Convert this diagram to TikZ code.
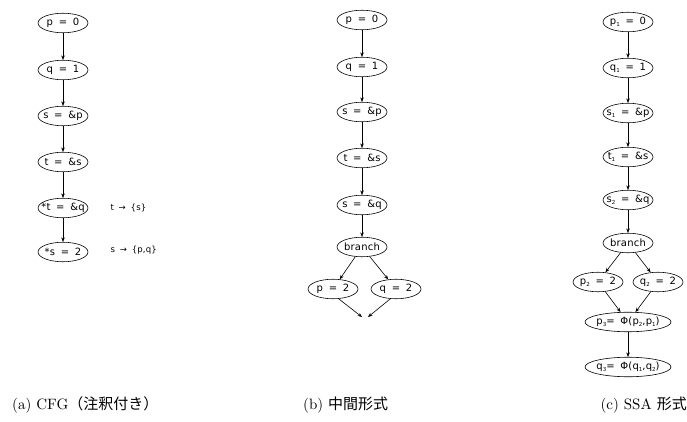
\documentclass[tikz,border=0pt]{standalone}
\usepackage{fontspec}
\newfontfamily\nodefont[WordSpace=1.7,LetterSpace=2]{DejaVu Sans}
\newfontfamily\cjk{Noto Sans CJK JP}
\newfontfamily\capfont{lmroman10-regular.otf}
\usetikzlibrary{shapes.geometric,arrows.meta}
\newcommand{\subn}[1]{\raisebox{-2pt}{\fontsize{5.5}{6}\selectfont #1}}
\tikzset{
  ir/.style={ellipse,draw,line width=0.6pt,minimum width=50pt,minimum height=19.5pt,inner xsep=-8pt,inner ysep=-3pt,font=\nodefont\fontsize{10}{12}\selectfont},
  wide/.style={ir,minimum width=86pt},
  ed/.style={draw,line width=0.6pt,-{Stealth[length=4.5pt,width=3.5pt]}},
  anno/.style={anchor=west,font=\nodefont\fontsize{8.5}{10}\selectfont},
  captext/.style={font=\capfont\fontsize{15}{17}\selectfont,inner sep=0pt}
}
\begin{document}
\begin{tikzpicture}[x=1pt,y=-1pt]
\useasboundingbox (0,0) rectangle (687,422);
% (a)
\node[ir] (a1) at (63,23) {p = 0};
\node[ir] (a2) at (63,70) {q = 1};
\node[ir] (a3) at (63,116) {s = \&p};
\node[ir] (a4) at (63,162) {t = \&s};
\node[ir] (a5) at (63,208) {*t = \&q};
\node[ir] (a6) at (63,252) {*s = 2};
\foreach \i/\j in {a1/a2,a2/a3,a3/a4,a4/a5,a5/a6} \draw[ed] (\i) -- (\j);
\node[anno] (n1) at (107,208) {t → \{s\}};
\node[anno] (n2) at (107,250) {s → \{p,q\}};
% (b)
\node[ir] (b1) at (362,20) {p = 0};
\node[ir] (b2) at (362,67) {q = 1};
\node[ir] (b3) at (362,112) {s = \&p};
\node[ir] (b4) at (362,158) {t = \&s};
\node[ir] (b5) at (362,205) {s = \&q};
\node[ir] (b6) at (362,247) {branch};
\node[ir] (b7) at (333,289) {p = 2};
\node[ir] (b8) at (396,289) {q = 2};
\coordinate (bl) at (362,317);
\coordinate (br) at (368,317);
\foreach \i/\j in {b1/b2,b2/b3,b3/b4,b4/b5,b5/b6,b6/b7,b6/b8} \draw[ed] (\i) -- (\j);
\draw[ed] (b7.-60) -- (bl);
\draw[ed] (b8.-120) -- (br);
% (c)
\node[ir] (c1) at (628,22) {p\subn{1} = 0};
\node[ir] (c2) at (628,68) {q\subn{1} = 1};
\node[ir] (c3) at (628,113) {s\subn{1} = \&p};
\node[ir] (c4) at (628,157) {t\subn{1} = \&s};
\node[ir] (c5) at (628,200) {s\subn{2} = \&q};
\node[ir] (c6) at (628,243) {branch};
\node[ir] (c7) at (598,282) {p\subn{2} = 2};
\node[ir] (c8) at (658,282) {q\subn{2} = 2};
\node[wide] (c9) at (628,322) {p\subn{3}= Φ(p\subn{2},p\subn{1})};
\node[wide] (c10) at (628,367) {q\subn{3}= Φ(q\subn{1},q\subn{2})};
\foreach \i/\j in {c1/c2,c2/c3,c3/c4,c4/c5,c5/c6,c6/c7,c6/c8,c7/c9,c8/c9,c9/c10} \draw[ed] (\i) -- (\j);
% captions
\node[captext,anchor=west] (ca) at (12,405) {(a) CFG{\cjk（注釈付き）}};
\node[captext,anchor=west] (cb) at (303,405) {(b) {\cjk 中間形式}};
\node[captext,anchor=east] (cc) at (687,405) {(c) SSA {\cjk 形式}};
\end{tikzpicture}
\end{document}
